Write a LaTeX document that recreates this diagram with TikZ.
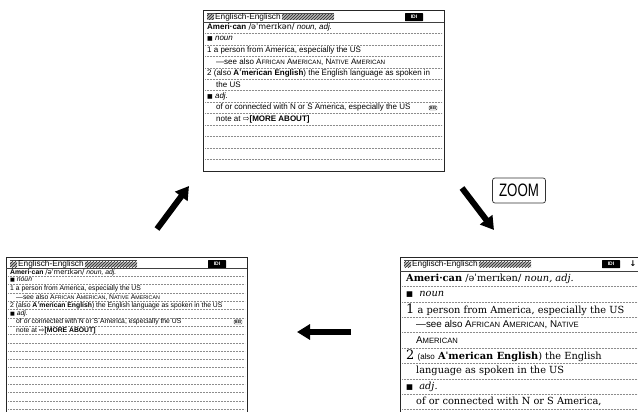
\documentclass[tikz,border=0pt]{standalone}
\usepackage{fontspec}
\setmainfont{DejaVu Serif}
\setsansfont{Liberation Sans}
\newfontfamily\symfont{DejaVu Sans}
\usetikzlibrary{arrows.meta,patterns,calc}

\newcommand{\smc}[2]{#1\scalebox{0.78}{#2}}
\newcommand{\sqb}{{\symfont\scalebox{0.75}{■}}}
\newcommand{\screenhead}[2]{%
  \draw[tabline] (4,3.5) -- (131,3.5);
  \fill[hatch] (4,4.5) rectangle (11,10);
  \node[headtitle] (#1title) at (12,7.2) {Englisch-Englisch};
  \fill[hatch] ([xshift=1pt]#1title.east) ++(0,-2.7) rectangle (131,10);
  \node[idibadge] (#1idi) at (211,7.2) {IDI};
  \draw[headrule] (0,#2) -- (241,#2);
}

\begin{document}
\begin{tikzpicture}[
    x=1pt, y=-1pt,
    screen/.style={draw=black!85, line width=1.1pt, anchor=north west, inner sep=0pt,
        minimum width=241pt, minimum height=161pt},
    tabline/.style={draw=black!70, line width=0.5pt},
    hatch/.style={fill=black!30, postaction={pattern=north east lines, pattern color=black!85}},
    headtitle/.style={anchor=west, inner sep=0pt, font=\sffamily\fontsize{8.3}{9}\selectfont},
    idibadge/.style={fill=black, text=white, rounded corners=0.5pt, inner sep=0pt,
        minimum width=18pt, minimum height=8pt, font=\sffamily\bfseries\fontsize{5}{5}\selectfont},
    headrule/.style={draw=black!75, line width=0.7pt},
    dotrule/.style={draw=black!45, line width=0.4pt, dash pattern=on 0.6pt off 0.9pt},
    toprow/.style={anchor=west, inner sep=0pt, font=\sffamily\fontsize{8}{9}\selectfont},
    leftrow/.style={anchor=west, inner sep=0pt, font=\sffamily\fontsize{6.8}{8}\selectfont},
    bigrow/.style={anchor=west, inner sep=0pt, font=\fontsize{9.8}{11}\selectfont},
    beitag/.style={draw=black!80, rounded corners=1pt, line width=0.4pt, inner sep=0.7pt,
        font=\sffamily\bfseries\fontsize{4}{4}\selectfont},
    bigarrow/.style={-{Triangle[length=13pt,width=15pt]}, line width=6pt},
    zoomtag/.style={draw=black!80, rounded corners=2.5pt, line width=0.7pt, inner sep=0pt,
        minimum width=53pt, minimum height=25pt, font=\sffamily\fontsize{18}{18}\selectfont}
]
\useasboundingbox (0,0) rectangle (638,412);

\begin{scope}[shift={(203,10)}]
  \node[screen] (topscr) at (0,0) {};
  \screenhead{top}{12}
  \foreach \k in {1,...,12} \draw[dotrule] (2,{12+\k*11.45}) -- (239,{12+\k*11.45});
  \node[toprow] (top1) at (4,17.7) {\textbf{Ameri·can} {\symfont /əˈmerɪkən/} \textit{noun, adj.}};
  \node[toprow] (top2) at (4,29.2) {\sqb\ \textit{noun}};
  \node[toprow] (top3) at (4,40.6) {1 a person from America, especially the US};
  \node[toprow] (top4) at (13,52.1) {—see also \smc{A}{FRICAN} \smc{A}{MERICAN}, \smc{N}{ATIVE} \smc{A}{MERICAN}};
  \node[toprow] (top5) at (4,63.5) {2 (also \textbf{A{\symfont ˈ}merican English}) the English language as spoken in};
  \node[toprow] (top6) at (13,75.0) {the US};
  \node[toprow] (top7) at (4,86.4) {\sqb\ \textit{adj.}};
  \node[toprow] (top8) at (13,97.9) {of or connected with N or S America, especially the US};
  \node[beitag] (topbei) at (230,97.9) {BEI};
  \node[toprow] (top9) at (13,109.3) {note at {\symfont ⇨}\textbf{[MORE ABOUT]}};
\end{scope}

\begin{scope}[shift={(6,257)}]
  \node[screen] (leftscr) at (0,0) {};
  \screenhead{left}{11}
  \foreach \k in {1,...,18} \draw[dotrule] (2,{11+\k*8.3}) -- (239,{11+\k*8.3});
  \node[leftrow] (left1) at (4,15.15) {\textbf{Ameri·can} {\symfont /əˈmerɪkən/} \textit{noun, adj.}};
  \node[leftrow] (left2) at (4,23.45) {\sqb\ \textit{noun}};
  \node[leftrow] (left3) at (4,31.75) {1 a person from America, especially the US};
  \node[leftrow] (left4) at (10,40.05) {—see also \smc{A}{FRICAN} \smc{A}{MERICAN}, \smc{N}{ATIVE} \smc{A}{MERICAN}};
  \node[leftrow] (left5) at (4,48.35) {2 (also \textbf{A{\symfont ˈ}merican English}) the English language as spoken in the US};
  \node[leftrow] (left6) at (4,56.65) {\sqb\ \textit{adj.}};
  \node[leftrow] (left7) at (10,64.95) {of or connected with N or S America, especially the US};
  \node[beitag] (leftbei) at (232,64.95) {BEI};
  \node[leftrow] (left8) at (10,73.25) {note at {\symfont ⇨}\textbf{[MORE ABOUT]}};
\end{scope}

\begin{scope}[shift={(400,257)}]
  \node[screen] (bigscr) at (0,0) {};
  \screenhead{big}{14}
  \node[inner sep=0pt, font=\symfont\bfseries\fontsize{8}{8}\selectfont] (bigdown) at (233,7) {↓};
  \foreach \k in {1,...,10} \draw[dotrule] (2,{14+\k*15.4}) -- (239,{14+\k*15.4});
  \node[bigrow] (big1) at (6,21.7) {\textbf{Ameri·can} /əˈmerɪkən/ \textit{noun, adj.}};
  \node[bigrow] (big2) at (6,37.1) {\sqb\ \ \textit{noun}};
  \node[bigrow] (big3) at (6,52.5) {{\fontsize{13}{13}\selectfont 1} a person from America, especially the US};
  \node[bigrow] (big4) at (16,67.9) {\sffamily —see also \smc{A}{FRICAN} \smc{A}{MERICAN}, \smc{N}{ATIVE}};
  \node[bigrow] (big5) at (16,83.3) {\sffamily \smc{A}{MERICAN}};
  \node[bigrow] (big6) at (6,98.7) {{\fontsize{13}{13}\selectfont 2} {\sffamily\fontsize{8}{9}\selectfont (also} \textbf{Aˈmerican English}) the English};
  \node[bigrow] (big7) at (16,114.1) {language as spoken in the US};
  \node[bigrow] (big8) at (6,129.5) {\sqb\ \ \textit{adj.}};
  \node[bigrow] (big9) at (16,144.9) {of or connected with N or S America,};
\end{scope}

\coordinate (uptail) at (157,229);
\coordinate (uptip) at (189,186);
\coordinate (downtail) at (462,188);
\coordinate (downtip) at (494,230);
\coordinate (backtail) at (351,332);
\coordinate (backtip) at (297,332);

\draw[bigarrow] (uptail) -- (uptip);
\draw[bigarrow] (downtail) -- (downtip);
\draw[bigarrow] (backtail) -- (backtip);

\node[zoomtag] (zoomlbl) at (519,190.5) {\scalebox{0.74}[1]{ZOOM}};
\end{tikzpicture}
\end{document}
